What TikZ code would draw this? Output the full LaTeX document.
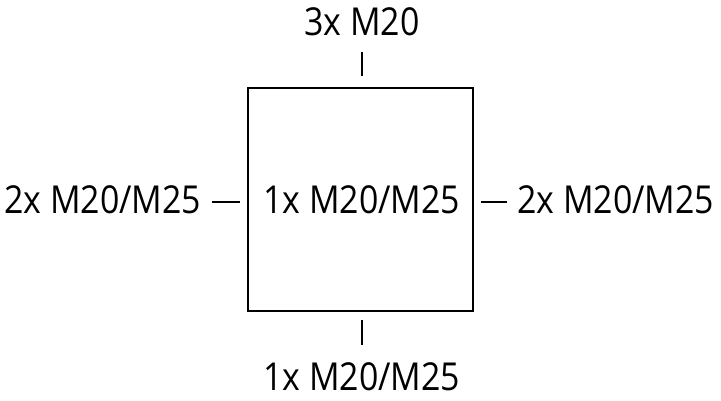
\documentclass[tikz,border=0pt]{standalone}
\usepackage{fontspec}
\setmainfont[FakeStretch=0.88]{Open Sans}
\begin{document}
\begin{tikzpicture}[x=1pt,y=-1pt,
  lbl/.style={font=\fontsize{38.5}{40}\selectfont, inner sep=0pt, anchor=base west},
  tick/.style={line width=2pt},
  boxst/.style={draw, line width=2pt}]
\useasboundingbox (0,0) rectangle (721,400);
\draw[boxst] (248,88) rectangle (473,311);
\node[lbl] (top) at (304,35) {3x M20};
\node[lbl] (left) at (4,213) {2x M20/M25};
\node[lbl] (center) at (263,213) {1x M20/M25};
\node[lbl] (right) at (517,213) {2x M20/M25};
\node[lbl] (bottom) at (263,390) {1x M20/M25};
\coordinate (t1) at (362,52); \coordinate (t2) at (362,76);
\coordinate (l1) at (212,202); \coordinate (l2) at (240,202);
\coordinate (r1) at (481,202); \coordinate (r2) at (507,202);
\coordinate (b1) at (362,320); \coordinate (b2) at (362,345);
\draw[tick] (t1) -- (t2);
\draw[tick] (l1) -- (l2);
\draw[tick] (r1) -- (r2);
\draw[tick] (b1) -- (b2);
\end{tikzpicture}
\end{document}
